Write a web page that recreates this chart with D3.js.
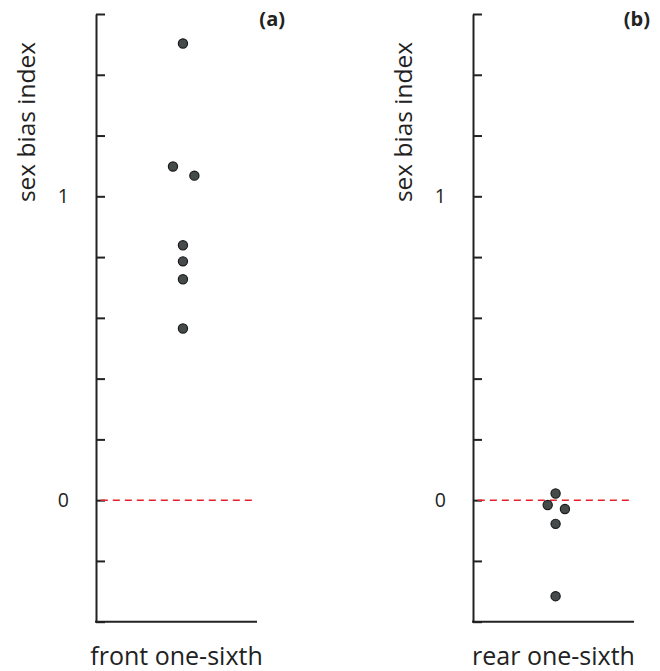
<!DOCTYPE html>
<html>
<head>
<meta charset="utf-8">
<script src="https://cdn.jsdelivr.net/npm/d3@7"></script>
<style>
  body { margin: 0; background: #fff; }
  text { font-family: "Open Sans", sans-serif; fill: #222; }
</style>
</head>
<body>
<div id="chart"></div>
<script>
// values
let tickValues = [-0.4, -0.2, 0, 0.2, 0.4, 0.6, 0.8, 1, 1.2, 1.4, 1.6];
let tickLabels = {"0": "0", "1": "1"};
let panelNames = ["(a)", "(b)"];
let xLabels = ["front one-sixth", "rear one-sixth"];
let yLabel = "sex bias index";

// front one-sixth
let frontValues = [1.503, 1.098, 1.068, 0.839, 0.786, 0.727, 0.565];
let frontJitter = [0.54, 0.478, 0.611, 0.54, 0.54, 0.54, 0.54];
// rear one-sixth
let rearValues = [0.022, -0.016, -0.029, -0.078, -0.316];
let rearJitter = [0.513, 0.464, 0.571, 0.513, 0.513];

let panels = [
  {name: panelNames[0], xLabel: xLabels[0], values: frontValues, jitter: frontJitter, left: 96, tagOffset: 28},
  {name: panelNames[1], xLabel: xLabels[1], values: rearValues, jitter: rearJitter, left: 473, tagOffset: 16}
];

let width = 161;
let marginTop = 14, height = 621.7 - 14;

let svg = d3.select("#chart").append("svg")
  .attr("width", 660)
  .attr("height", 671);

let y = d3.scaleLinear()
  .domain([-0.4, 1.6])
  .range([height, 0]);
let x = d3.scaleLinear()
  .domain([0, 1])
  .range([0, width]);

panels.forEach(function(p) {
  let g = svg.append("g")
    .attr("transform", "translate(" + p.left + "," + marginTop + ")");

  // y axis, ticks pointing inward
  let yAxis = d3.axisLeft(y)
    .tickValues(tickValues)
    .tickSizeInner(-9)
    .tickSizeOuter(0)
    .tickPadding(27)
    .tickFormat(function(d) { return tickLabels[String(Math.round(d * 10) / 10)] || ""; });
  let ya = g.append("g").call(yAxis);
  ya.selectAll("path, line").attr("stroke", "#222").attr("stroke-width", 2);
  ya.selectAll("text").style("font-size", "19.5px").attr("fill", "#222")
    .style("font-family", "Open Sans, sans-serif");

  // x axis baseline
  g.append("line")
    .attr("x1", x(0) - 1).attr("x2", x(1))
    .attr("y1", y(-0.4)).attr("y2", y(-0.4))
    .attr("stroke", "#222").attr("stroke-width", 2);

  // reference line at zero
  g.append("line")
    .attr("x1", x(0.03)).attr("x2", x(0.97))
    .attr("y1", y(0)).attr("y2", y(0))
    .attr("stroke", "#e8202a").attr("stroke-width", 1.5)
    .attr("stroke-dasharray", "7,5");

  g.selectAll("circle")
    .data(p.values)
    .enter().append("circle")
    .attr("cx", function(d, i) { return x(p.jitter[i]); })
    .attr("cy", function(d) { return y(d); })
    .attr("r", 4.6)
    .attr("fill", "#454a4a")
    .attr("stroke", "#1a1a1a")
    .attr("stroke-width", 1.2);

  g.append("text")
    .attr("transform", "translate(-61.5," + (y(1.6) + 108) + ") rotate(-90)")
    .attr("text-anchor", "middle")
    .style("font-size", "24.5px")
    .text(yLabel);

  g.append("text")
    .attr("x", x(0.5))
    .attr("y", height + 43)
    .attr("text-anchor", "middle")
    .style("font-size", "25px")
    .text(p.xLabel);

  g.append("text")
    .attr("x", x(1) + p.tagOffset)
    .attr("y", 12)
    .attr("text-anchor", "end")
    .style("font-size", "20px")
    .style("font-weight", "bold")
    .text(p.name);
});
</script>
</body>
</html>
